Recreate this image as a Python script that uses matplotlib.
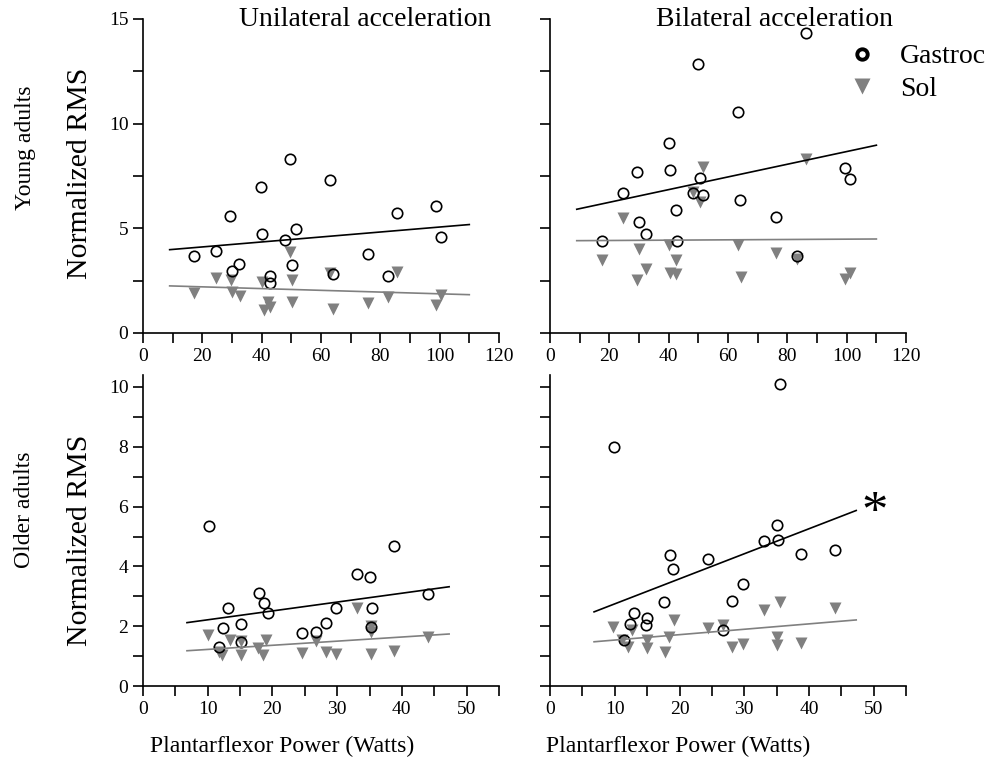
import matplotlib
matplotlib.use("Agg")
import matplotlib.pyplot as plt
from matplotlib.lines import Line2D
from matplotlib.ticker import MultipleLocator

plt.rcParams["font.family"] = ["Liberation Serif", "DejaVu Serif"]

# ---- data ----
# young adults, unilateral
yu_gas_x = [17.3, 24.6, 29.3, 30.1, 32.3, 39.9, 40.1, 42.9, 42.9, 47.9, 49.6, 50.1, 51.6, 63.0, 64.2, 75.7, 82.7, 85.7, 98.7, 100.3]
yu_gas_y = [3.69, 3.90, 5.59, 2.98, 3.30, 6.98, 4.75, 2.72, 2.37, 4.44, 8.30, 3.25, 4.95, 7.30, 2.82, 3.79, 2.71, 5.73, 6.07, 4.59]
yu_sol_x = [17.3, 24.6, 29.6, 29.9, 32.6, 40.1, 40.7, 42.3, 42.9, 49.6, 50.1, 50.1, 62.9, 64.2, 75.7, 82.7, 85.7, 98.7, 100.3]
yu_sol_y = [1.93, 2.64, 2.53, 1.94, 1.78, 2.45, 1.10, 1.50, 1.26, 3.89, 1.50, 2.53, 2.85, 1.15, 1.42, 1.73, 2.93, 1.34, 1.82]
# young adults, bilateral
yb_gas_x = [17.4, 24.6, 29.4, 30.0, 32.5, 40.2, 40.4, 42.4, 42.9, 48.3, 49.9, 50.5, 51.6, 63.5, 64.0, 76.3, 83.3, 86.4, 99.4, 101.2]
yb_gas_y = [4.40, 6.70, 7.68, 5.32, 4.72, 9.06, 7.79, 5.88, 4.40, 6.67, 12.84, 7.39, 6.59, 10.54, 6.35, 5.54, 3.69, 14.35, 7.88, 7.34]
yb_sol_x = [17.4, 24.6, 29.4, 30.0, 32.5, 40.2, 40.4, 42.6, 42.6, 48.3, 50.5, 51.6, 63.5, 64.4, 76.3, 83.3, 86.4, 99.4, 101.2]
yb_sol_y = [3.49, 5.48, 2.53, 4.00, 3.06, 4.20, 2.85, 3.49, 2.80, 6.75, 6.27, 7.95, 4.20, 2.69, 3.81, 3.52, 8.30, 2.57, 2.88]
# older adults, unilateral
ou_gas_x = [10.15, 11.8, 12.4, 13.1, 15.2, 15.2, 18.0, 18.7, 19.3, 24.5, 26.8, 28.3, 29.8, 33.0, 35.0, 35.4, 35.2, 38.8, 44.0]
ou_gas_y = [5.34, 1.31, 1.93, 2.60, 2.06, 1.48, 3.10, 2.77, 2.45, 1.76, 1.82, 2.10, 2.61, 3.76, 3.65, 2.62, 1.98, 4.69, 3.09]
ou_sol_x = [10.05, 11.8, 12.2, 13.4, 15.2, 15.2, 17.7, 18.5, 19.0, 24.5, 26.8, 28.3, 29.9, 33.0, 35.3, 35.2, 35.2, 38.8, 44.0]
ou_sol_y = [1.71, 1.15, 1.04, 1.54, 1.52, 1.04, 1.26, 1.04, 1.54, 1.09, 1.52, 1.15, 1.06, 2.62, 2.01, 1.82, 1.07, 1.17, 1.65]
# older adults, bilateral
ob_gas_x = [9.9, 11.4, 12.4, 12.9, 14.9, 15.0, 17.6, 18.5, 19.0, 24.4, 26.7, 28.1, 29.8, 33.1, 35.1, 35.2, 35.5, 38.8, 44.1]
ob_gas_y = [7.98, 1.54, 2.09, 2.43, 2.04, 2.26, 2.82, 4.38, 3.91, 4.25, 1.87, 2.85, 3.40, 4.86, 5.38, 4.88, 10.09, 4.41, 4.54]
ob_sol_x = [9.8, 11.1, 12.1, 12.6, 15.0, 15.0, 17.8, 18.4, 19.1, 24.4, 26.7, 28.1, 29.8, 33.1, 35.5, 35.1, 35.1, 38.8, 44.1]
ob_sol_y = [1.98, 1.54, 1.31, 1.87, 1.54, 1.26, 1.15, 1.65, 2.21, 1.95, 2.04, 1.29, 1.40, 2.54, 2.80, 1.65, 1.37, 1.45, 2.60]

# regression line end points: x range per age group, (y0, y1) per line
young_fit_x = [9.0, 110.0]
yu_gas_fit = [3.98, 5.18]
yu_sol_fit = [2.25, 1.83]
yb_gas_fit = [5.91, 8.97]
yb_sol_fit = [4.41, 4.49]
old_fit_x = [6.8, 47.3]
ou_gas_fit = [2.12, 3.32]
ou_sol_fit = [1.18, 1.74]
ob_gas_fit = [2.48, 5.87]
ob_sol_fit = [1.48, 2.21]

GRAY = "#808080"
W, H = 990, 771


def px(x, y):
    # figure pixel -> figure fraction
    return x / W, 1 - y / H


fig = plt.figure(figsize=(9.9, 7.71), dpi=100)
ax_tl = fig.add_axes([0.1444, 0.5681, 0.3596, 0.4073])
ax_tr = fig.add_axes([0.5556, 0.5681, 0.3596, 0.4073])
ax_bl = fig.add_axes([0.1444, 0.1102, 0.3596, 0.4034])
ax_br = fig.add_axes([0.5556, 0.1102, 0.3596, 0.4034])

panels = [
    (ax_tl, yu_gas_x, yu_gas_y, yu_sol_x, yu_sol_y, young_fit_x, yu_gas_fit, yu_sol_fit),
    (ax_tr, yb_gas_x, yb_gas_y, yb_sol_x, yb_sol_y, young_fit_x, yb_gas_fit, yb_sol_fit),
    (ax_bl, ou_gas_x, ou_gas_y, ou_sol_x, ou_sol_y, old_fit_x, ou_gas_fit, ou_sol_fit),
    (ax_br, ob_gas_x, ob_gas_y, ob_sol_x, ob_sol_y, old_fit_x, ob_gas_fit, ob_sol_fit),
]

for ax, gx, gy, sx, sy, fx, gfit, sfit in panels:
    ax.plot(sx, sy, "v", color=GRAY, ms=9, mec="none", zorder=2, clip_on=False)
    ax.plot(gx, gy, "o", mfc="none", mec="black", ms=7.5, mew=1.2, zorder=3, clip_on=False)
    ax.plot(fx, gfit, "-", color="black", lw=1.2, zorder=4)
    ax.plot(fx, sfit, "-", color=GRAY, lw=1.2, zorder=4)
    for s in ("top", "right"):
        ax.spines[s].set_visible(False)
    for s in ("left", "bottom"):
        ax.spines[s].set_linewidth(1.2)
    ax.tick_params(which="both", direction="out", length=7, width=1.2, labelsize=14, pad=3.5)

for ax in (ax_tl, ax_tr):
    ax.set_xlim(0, 120)
    ax.set_ylim(0, 15)
    ax.xaxis.set_major_locator(MultipleLocator(20))
    ax.xaxis.set_minor_locator(MultipleLocator(10))
    ax.yaxis.set_major_locator(MultipleLocator(5))
    ax.yaxis.set_minor_locator(MultipleLocator(2.5))

for ax in (ax_bl, ax_br):
    ax.set_xlim(0, 55)
    ax.set_ylim(0, 10.4)
    ax.xaxis.set_major_locator(MultipleLocator(10))
    ax.xaxis.set_minor_locator(MultipleLocator(5))
    ax.yaxis.set_major_locator(MultipleLocator(2))
    ax.yaxis.set_minor_locator(MultipleLocator(1))

for ax in (ax_tr, ax_br):
    ax.tick_params(axis="y", labelleft=False)

ax_br.text(50.2, 5.75, "*", fontsize=38, ha="center", va="center")

# text labels placed in figure pixels
fig.text(*px(365, 19), "Unilateral acceleration", fontsize=20, ha="center", va="center")
fig.text(*px(775, 19), "Bilateral acceleration", fontsize=20, ha="center", va="center")
fig.text(*px(25, 148), "Young adults", fontsize=17, rotation=90, ha="center", va="center")
fig.text(*px(80, 173), "Normalized RMS", fontsize=21.5, rotation=90, ha="center", va="center")
fig.text(*px(25, 510), "Older adults", fontsize=17, rotation=90, ha="center", va="center")
fig.text(*px(80, 540), "Normalized RMS", fontsize=21.5, rotation=90, ha="center", va="center")
fig.text(*px(282, 746), "Plantarflexor Power (Watts)", fontsize=17, ha="center", va="center")
fig.text(*px(678, 746), "Plantarflexor Power (Watts)", fontsize=17, ha="center", va="center")

handles = [
    Line2D([], [], ls="none", marker="o", mfc="none", mec="black", ms=7.5, mew=2.8),
    Line2D([], [], ls="none", marker="v", color=GRAY, mec="none", ms=11),
]
fig.legend(handles, ["Gastroc", "Sol"], loc="upper left", bbox_to_anchor=px(840, 44),
           frameon=False, fontsize=20, handletextpad=0.55, labelspacing=0.25,
           handlelength=1.6, borderaxespad=0, borderpad=0)

fig.savefig("out.png", dpi=100)
